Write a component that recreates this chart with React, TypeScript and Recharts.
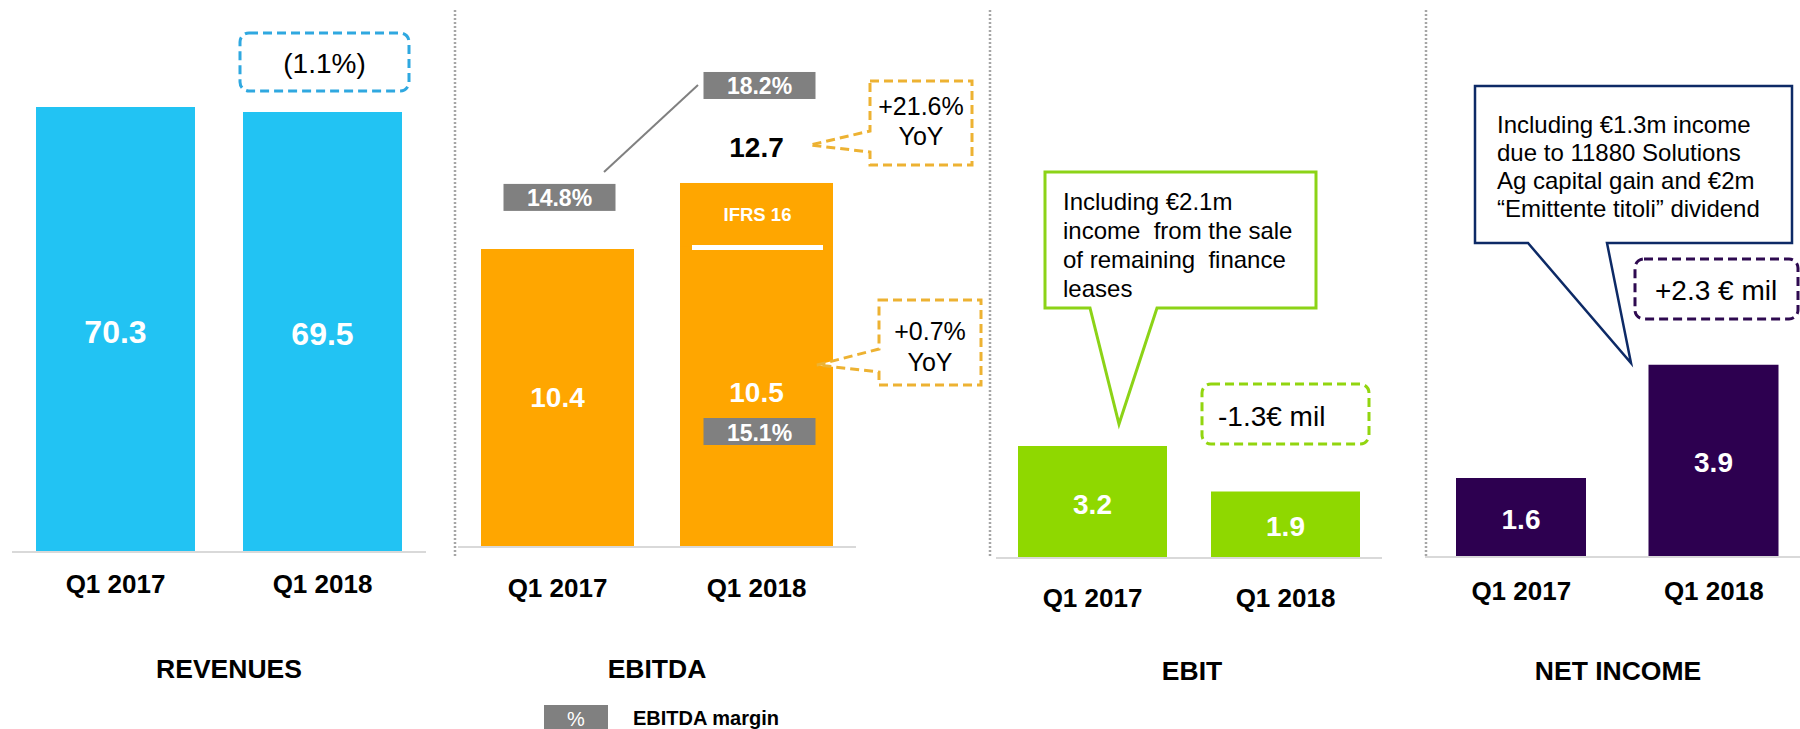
import React from 'react';
import { BarChart, Bar, XAxis, YAxis, LabelList } from 'recharts';

// ---------- data ----------
const categories = ['Q1 2017', 'Q1 2018'];
const revenueValues = [70.3, 69.5];
const ebitdaReported = [10.4, 10.5];
const ebitdaIfrs16 = [0, 2.2];
const ebitdaMargin = [14.8, 15.1];
const ebitdaMarginIfrs16 = [null, 18.2];
const ebitValues = [3.2, 1.9];
const netIncomeValues = [1.6, 3.9];

const revenueData = categories.map((name, i) => ({ name, value: revenueValues[i] }));
const ebitdaData = categories.map((name, i) => ({
  name,
  reported: ebitdaReported[i],
  ifrs: ebitdaIfrs16[i],
}));
const ebitData = categories.map((name, i) => ({ name, value: ebitValues[i] }));
const netIncomeData = categories.map((name, i) => ({ name, value: netIncomeValues[i] }));

// ---------- styles ----------
const FONT = '"Liberation Sans", Arial, Helvetica, sans-serif';
const C_REV = '#22C3F3';
const C_EBITDA = '#FFA600';
const C_EBIT = '#8FD800';
const C_NI = '#2D0050';
const C_GREY = '#808080';
const AXIS = '#D9D9D9';

const makeTick = (centerY: number) => (props: any) => {
  const { x, payload } = props;
  return (
    <text
      x={x}
      y={centerY}
      textAnchor="middle"
      dominantBaseline="central"
      fontFamily={FONT}
      fontWeight="bold"
      fontSize={26}
      fill="#000"
    >
      {payload.value}
    </text>
  );
};

const makeValueLabel = (fontSize: number, dy = 0) => (props: any) => {
  const { x, y, width, height, value } = props;
  if (value == null) return null;
  const v = Array.isArray(value) ? value[1] - value[0] : value;
  return (
    <text
      x={Number(x) + Number(width) / 2}
      y={Number(y) + Number(height) / 2 + dy}
      textAnchor="middle"
      dominantBaseline="central"
      fontFamily={FONT}
      fontWeight="bold"
      fontSize={fontSize}
      fill="#fff"
    >
      {Number(v).toFixed(1)}
    </text>
  );
};

const MarginBox = ({ cx, cy, text }: { cx: number; cy: number; text: string }) => (
  <g>
    <rect x={cx - 56} y={cy - 13.5} width={112} height={27} fill={C_GREY} />
    <text
      x={cx}
      y={cy + 1}
      textAnchor="middle"
      dominantBaseline="central"
      fontFamily={FONT}
      fontWeight="bold"
      fontSize={23}
      fill="#fff"
    >
      {text}
    </text>
  </g>
);

// label content for the reported EBITDA segment
const reportedLabel = (props: any) => {
  const { x, y, width, height, index } = props;
  const i = index ?? 0;
  const cx = Number(x) + Number(width) / 2;
  const top = Number(y);
  const bottom = Number(y) + Number(height);
  const val = ebitdaReported[i];
  const m = ebitdaMargin[i];
  return (
    <g>
      <text
        x={cx}
        y={(top + bottom) / 2 + (i === 1 ? -4 : 0)}
        textAnchor="middle"
        dominantBaseline="central"
        fontFamily={FONT}
        fontWeight="bold"
        fontSize={28}
        fill="#fff"
      >
        {val.toFixed(1)}
      </text>
      {i === 0 ? (
        <MarginBox cx={cx + 2} cy={top - 51.5} text={`${m.toFixed(1)}%`} />
      ) : (
        <MarginBox cx={cx + 3} cy={bottom - 115.5} text={`${m.toFixed(1)}%`} />
      )}
    </g>
  );
};

// label content for the IFRS 16 segment
const ifrsLabel = (props: any) => {
  const { x, y, width, height, index } = props;
  const i = index ?? 0;
  if (!ebitdaIfrs16[i]) return null;
  const cx = Number(x) + Number(width) / 2;
  const top = Number(y);
  const total = ebitdaReported[i] + ebitdaIfrs16[i];
  const m = ebitdaMarginIfrs16[i];
  return (
    <g>
      <text
        x={cx + 1}
        y={top + Number(height) / 2}
        textAnchor="middle"
        dominantBaseline="central"
        fontFamily={FONT}
        fontWeight="bold"
        fontSize={18.5}
        fill="#fff"
      >
        IFRS 16
      </text>
      <text
        x={cx}
        y={top - 35}
        textAnchor="middle"
        dominantBaseline="central"
        fontFamily={FONT}
        fontWeight="bold"
        fontSize={28}
        fill="#000"
      >
        {total.toFixed(1)}
      </text>
      {m != null && <MarginBox cx={cx + 3} cy={top - 97.5} text={`${m.toFixed(1)}%`} />}
    </g>
  );
};

const ifrsShape = (props: any) => {
  const { x, y, width, height, fill } = props;
  if (!height || height <= 0) return null;
  return (
    <g>
      <rect x={x} y={y} width={width} height={height} fill={fill} />
      <line
        x1={x + 12}
        x2={x + width - 10}
        y1={y + height + 1.5}
        y2={y + height + 1.5}
        stroke="#fff"
        strokeWidth={5}
      />
    </g>
  );
};

const axisLine = { stroke: AXIS, strokeWidth: 2 };

function Overlay() {
  const txt = { fontFamily: FONT, fill: '#000' } as const;
  return (
    <svg
      width={1800}
      height={729}
      style={{ position: 'absolute', left: 0, top: 0, pointerEvents: 'none' }}
    >
      {/* separators */}
      {[455, 990, 1426].map((x) => (
        <line key={x} x1={x} x2={x} y1={10} y2={556} stroke="#A6A6A6" strokeWidth={2.5} strokeDasharray="2 2" />
      ))}

      {/* revenue change */}
      <rect x={240} y={33} width={169} height={58} rx={9} fill="#fff" stroke="#2FA8E0" strokeWidth={3} strokeDasharray="9 5" />
      <text x={324.5} y={63} textAnchor="middle" dominantBaseline="central" fontSize={28} {...txt}>(1.1%)</text>

      {/* EBITDA margin connector */}
      <line x1={604} y1={172} x2={698} y2={85} stroke={C_GREY} strokeWidth={2} />

      {/* EBITDA YoY callouts */}
      <path d="M870,81 H972 V165 H870 V152 L810,145 L870,131 Z" fill="#fff" stroke="#EDB232" strokeWidth={3} strokeDasharray="9 5" />
      <text x={921} y={106} textAnchor="middle" dominantBaseline="central" fontSize={25} {...txt}>+21.6%</text>
      <text x={921} y={136} textAnchor="middle" dominantBaseline="central" fontSize={25} {...txt}>YoY</text>

      <path d="M879,300 H981 V385 H879 V372 L817,365 L879,349 Z" fill="#fff" stroke="#EDB232" strokeWidth={3} strokeDasharray="9 5" />
      <text x={930} y={331} textAnchor="middle" dominantBaseline="central" fontSize={25} {...txt}>+0.7%</text>
      <text x={930} y={362} textAnchor="middle" dominantBaseline="central" fontSize={25} {...txt}>YoY</text>

      {/* EBIT callout */}
      <path d="M1045,172 H1316 V308 H1157 L1119,424 L1090,308 H1045 Z" fill="#fff" stroke="#8CD317" strokeWidth={3} />
      {['Including €2.1m', 'income  from the sale', 'of remaining  finance', 'leases'].map((l, i) => (
        <text key={i} x={1063} y={201 + i * 29} dominantBaseline="central" fontSize={24} xmlSpace="preserve" style={{ whiteSpace: 'pre' }} {...txt}>
          {l}
        </text>
      ))}
      <rect x={1202} y={384} width={167} height={60} rx={9} fill="#fff" stroke="#92D50F" strokeWidth={3} strokeDasharray="9 5" />
      <text x={1218} y={416} dominantBaseline="central" fontSize={28} {...txt}>-1.3€ mil</text>

      {/* Net income callout */}
      <path d="M1475,86 H1792 V243 H1607 L1631,363 L1528,243 H1475 Z" fill="#fff" stroke="#0D2A66" strokeWidth={2.5} />
      {['Including €1.3m income', 'due to 11880 Solutions', 'Ag capital gain and €2m', '“Emittente titoli” dividend'].map((l, i) => (
        <text key={i} x={1497} y={124 + i * 28.3} dominantBaseline="central" fontSize={24} {...txt}>
          {l}
        </text>
      ))}
      <rect x={1635} y={259} width={163} height={60} rx={9} fill="#fff" stroke="#2E0A50" strokeWidth={3} strokeDasharray="9 5" />
      <text x={1655} y={290} dominantBaseline="central" fontSize={28} {...txt}>+2.3 € mil</text>

      {/* titles */}
      {[
        ['REVENUES', 229, 669],
        ['EBITDA', 657, 669],
        ['EBIT', 1192, 671],
        ['NET INCOME', 1618, 671],
      ].map(([t, x, y]) => (
        <text key={t as string} x={x as number} y={y as number} textAnchor="middle" dominantBaseline="central" fontSize={26.5} fontWeight="bold" {...txt}>
          {t}
        </text>
      ))}

      {/* legend */}
      <rect x={544} y={705} width={64} height={30} fill={C_GREY} />
      <text x={576} y={719} textAnchor="middle" dominantBaseline="central" fontSize={20} fill="#fff" fontFamily={FONT}>%</text>
      <text x={633} y={718} dominantBaseline="central" fontSize={20} fontWeight="bold" {...txt}>EBITDA margin</text>
    </svg>
  );
}

export default function App() {
  return (
    <div
      style={{
        position: 'absolute',
        left: 0,
        top: 0,
        width: 1800,
        height: 729,
        overflow: 'hidden',
        background: '#fff',
        fontFamily: FONT,
      }}
    >
      {/* REVENUES */}
      <div style={{ position: 'absolute', left: 0, top: 0 }}>
        <BarChart width={460} height={729} data={revenueData} margin={{ top: 45.6, right: 34, bottom: 137, left: 12 }}>
          <XAxis dataKey="name" height={40} axisLine={axisLine} tickLine={false} tick={makeTick(584)} interval={0} />
          <YAxis hide domain={[0, 80]} allowDataOverflow />
          <Bar dataKey="value" fill={C_REV} barSize={159} isAnimationActive={false}>
            <LabelList dataKey="value" content={makeValueLabel(32, 2)} />
          </Bar>
        </BarChart>
      </div>

      {/* EBITDA */}
      <div style={{ position: 'absolute', left: 440, top: 0 }}>
        <BarChart width={440} height={729} data={ebitdaData} margin={{ top: 88.4, right: 24, bottom: 142, left: 18 }}>
          <XAxis dataKey="name" height={40} axisLine={axisLine} tickLine={false} tick={makeTick(588)} interval={0} />
          <YAxis hide domain={[0, 16]} allowDataOverflow />
          <Bar dataKey="reported" stackId="e" fill={C_EBITDA} barSize={153} isAnimationActive={false}>
            <LabelList dataKey="reported" content={reportedLabel} />
          </Bar>
          <Bar dataKey="ifrs" stackId="e" fill={C_EBITDA} barSize={153} isAnimationActive={false} shape={ifrsShape}>
            <LabelList dataKey="ifrs" content={ifrsLabel} />
          </Bar>
        </BarChart>
      </div>

      {/* EBIT */}
      <div style={{ position: 'absolute', left: 980, top: 0 }}>
        <BarChart width={420} height={729} data={ebitData} margin={{ top: 138, right: 18, bottom: 131, left: 16 }}>
          <XAxis dataKey="name" height={40} axisLine={axisLine} tickLine={false} tick={makeTick(598)} interval={0} />
          <YAxis hide domain={[0, 12]} allowDataOverflow />
          <Bar dataKey="value" fill={C_EBIT} barSize={149} isAnimationActive={false}>
            <LabelList dataKey="value" content={makeValueLabel(28, 2)} />
          </Bar>
        </BarChart>
      </div>

      {/* NET INCOME */}
      <div style={{ position: 'absolute', left: 1410, top: 0 }}>
        <BarChart width={400} height={729} data={netIncomeData} margin={{ top: 162.6, right: 0, bottom: 132, left: 15 }}>
          <XAxis dataKey="name" height={40} axisLine={axisLine} tickLine={false} tick={makeTick(591)} interval={0} />
          <YAxis hide domain={[0, 8]} allowDataOverflow />
          <Bar dataKey="value" fill={C_NI} barSize={130} isAnimationActive={false}>
            <LabelList dataKey="value" content={makeValueLabel(28, 2)} />
          </Bar>
        </BarChart>
      </div>

      <Overlay />
    </div>
  );
}
